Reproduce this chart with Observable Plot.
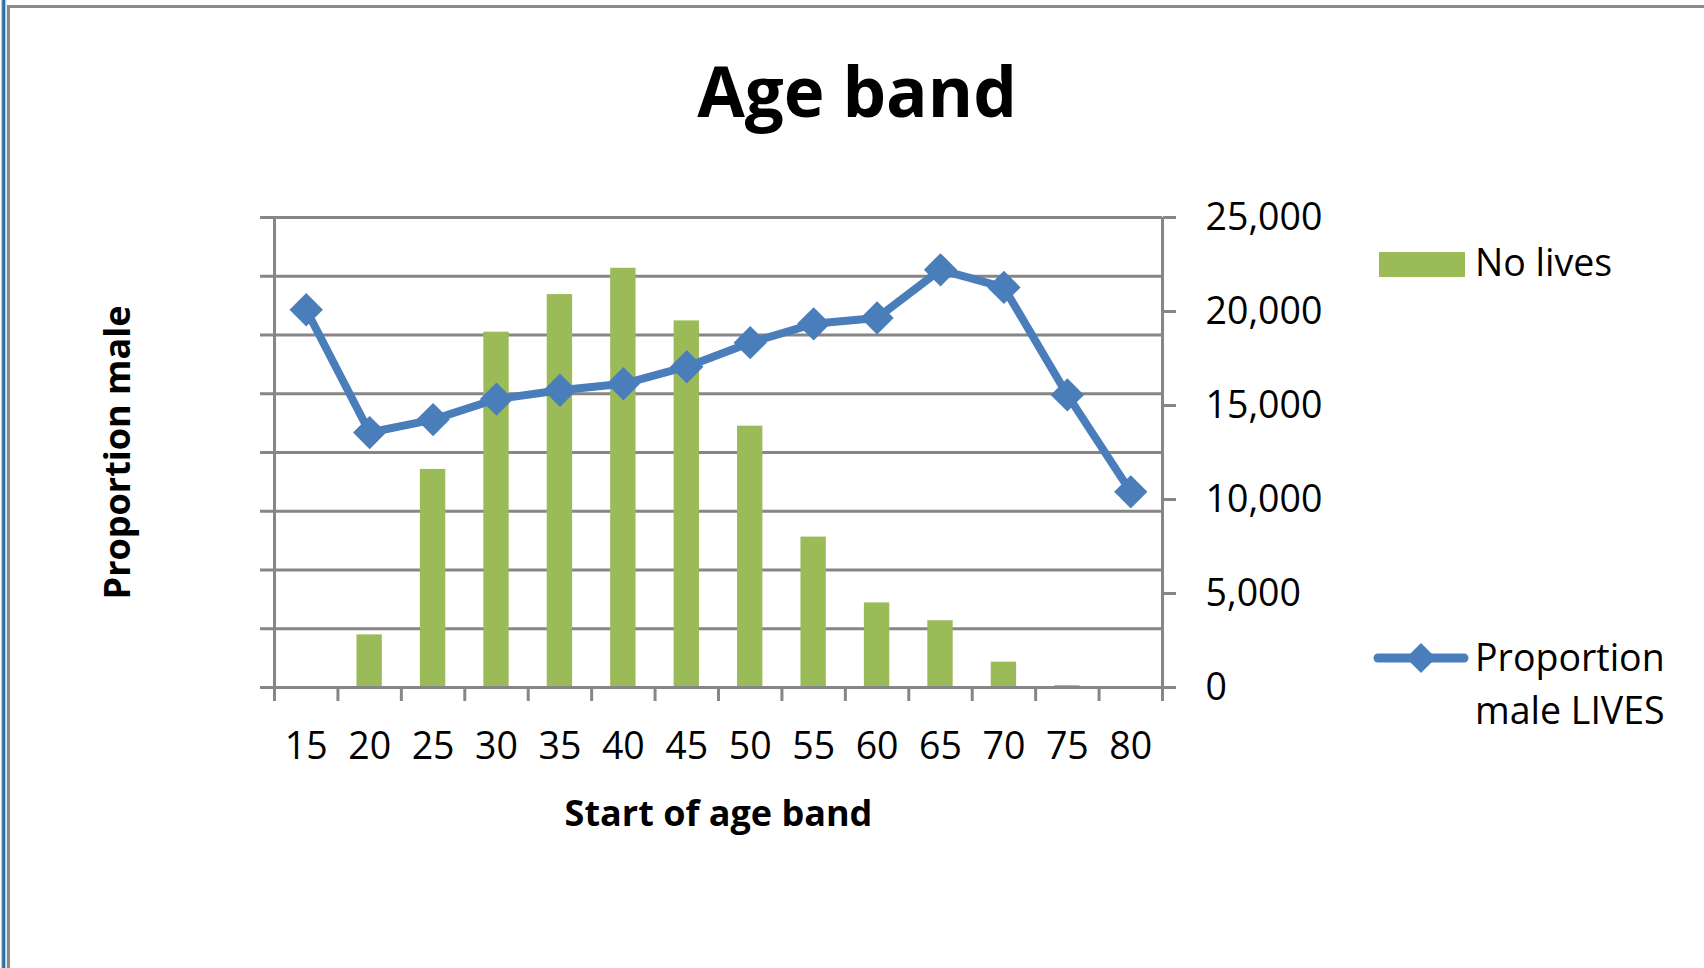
<!DOCTYPE html>
<html>
<head>
<meta charset="utf-8">
<script src="https://cdn.jsdelivr.net/npm/d3@7"></script>
<script src="https://cdn.jsdelivr.net/npm/@observablehq/plot@0.6"></script>
<style>
  html, body { margin: 0; padding: 0; background: #fff; }
  #wrap { position: relative; width: 1704px; height: 968px; overflow: hidden; background: #fff; }
  #chart, #overlay { position: absolute; left: 0; top: 0; }
  #overlay { pointer-events: none; font-family: "Open Sans", sans-serif; }
</style>
</head>
<body>
<div id="wrap">
  <div id="chart"></div>
  <svg id="overlay" width="1704" height="968" xmlns="http://www.w3.org/2000/svg">
    <!-- outer frame -->
    <rect x="1" y="0" width="1.2" height="968" fill="#a8d0ea"></rect>
    <rect x="2.2" y="0" width="3" height="968" fill="#2f6c9c"></rect>
    <rect x="5.2" y="0" width="1.2" height="968" fill="#a8d0ea"></rect>
    <rect x="7" y="5" width="1697" height="3" fill="#8a8a8a"></rect>
    <rect x="7" y="5" width="3" height="963" fill="#8a8a8a"></rect>
    <!-- title -->
    <text x="857" y="117" text-anchor="middle" font-size="69" font-weight="bold" fill="#000">Age band</text>
    <!-- legend -->
    <rect x="1379" y="252" width="86" height="25" fill="#9BBB59"></rect>
    <text x="1475" y="276" font-size="37.5" fill="#000">No lives</text>
    <line x1="1378" y1="658" x2="1464" y2="658" stroke="#4A7EBB" stroke-width="9" stroke-linecap="round"></line>
    <path d="M1421,643 L1436,658 L1421,673 L1406,658 Z" fill="#4A7EBB"></path>
    <text x="1475" y="671" font-size="37.5" fill="#000">Proportion</text>
    <text x="1475" y="724" font-size="37.5" fill="#000">male LIVES</text>
  </svg>
</div>
<script>
// Start of each five-year age band
const ageBands = [15, 20, 25, 30, 35, 40, 45, 50, 55, 60, 65, 70, 75, 80];
// Number of lives in each band (right-hand axis)
const lives = [0, 2800, 11600, 18900, 20900, 22300, 19500, 13900, 8000, 4500, 3550, 1350, 100, 0];
// Proportion of lives that are male (left-hand axis, unlabelled)
const proportionMale = [0.643, 0.434, 0.456, 0.491, 0.506, 0.517, 0.546, 0.587, 0.619, 0.629, 0.711, 0.681, 0.498, 0.333];
// Tick values for both vertical axes
const livesTicks = [0, 5000, 10000, 15000, 20000, 25000];
const proportionTicks = [0, 0.1, 0.2, 0.3, 0.4, 0.5, 0.6, 0.7, 0.8];

const livesMax = 25000;
const proportionMax = 0.8;
// the proportion series shares the plot's y scale, so rescale it onto the lives range
const toLives = (p) => p * livesMax / proportionMax;

const rows = ageBands.map((band, i) => ({
  i,
  band,
  lives: lives[i],
  prop: proportionMale[i]
}));

const gray = "#868686";
const boundaries = ageBands.map((_, i) => i).concat(ageBands.length);
const centres = ageBands.map((_, i) => i + 0.5);

const chart = Plot.plot({
  width: 1704,
  height: 968,
  marginLeft: 274,
  marginRight: 542,
  marginTop: 217,
  marginBottom: 281,
  style: {
    fontFamily: "'Open Sans', sans-serif",
    fontSize: "37.5px",
    color: "#000",
    background: "transparent",
    overflow: "visible"
  },
  x: { type: "linear", domain: [0, ageBands.length] },
  y: { type: "linear", domain: [0, livesMax] },
  marks: [
    // horizontal gridlines follow the proportion axis
    Plot.ruleY(proportionTicks, { y: toLives, stroke: gray, strokeWidth: 3 }),
    // bars: number of lives
    Plot.rectY(rows, {
      x1: (d) => d.i + 0.3,
      x2: (d) => d.i + 0.7,
      y: "lives",
      fill: "#9BBB59"
    }),
    // axis lines
    Plot.ruleX([0, ageBands.length], { stroke: gray, strokeWidth: 3 }),
    Plot.ruleY([0], { stroke: gray, strokeWidth: 3 }),
    // left axis: ticks only
    Plot.axisY(proportionTicks.map(toLives), {
      anchor: "left",
      tickSize: 14,
      tickFormat: () => "",
      stroke: gray,
      strokeWidth: 3,
      label: null
    }),
    // right axis: number of lives
    Plot.axisY(livesTicks, {
      anchor: "right",
      tickSize: 13,
      tickPadding: 30,
      tickFormat: d3.format(","),
      stroke: gray,
      strokeWidth: 3,
      fill: "#000",
      textAnchor: "start",
      label: null
    }),
    // bottom axis: ticks at band boundaries, labels at band centres
    Plot.axisX(boundaries, {
      tickSize: 14,
      tickFormat: () => "",
      stroke: gray,
      strokeWidth: 3,
      label: null
    }),
    Plot.axisX(centres, {
      tickSize: 0,
      tickPadding: 45,
      tickFormat: (d) => String(ageBands[Math.round(d - 0.5)]),
      fill: "#000",
      label: null
    }),
    // proportion male line with diamond markers
    Plot.line(rows, {
      x: (d) => d.i + 0.5,
      y: (d) => toLives(d.prop),
      stroke: "#4A7EBB",
      strokeWidth: 8,
      strokeLinejoin: "round"
    }),
    Plot.dot(rows, {
      x: (d) => d.i + 0.5,
      y: (d) => toLives(d.prop),
      symbol: "diamond2",
      r: 15,
      fill: "#4A7EBB",
      stroke: "none"
    }),
    // axis titles
    Plot.text(["Start of age band"], {
      frameAnchor: "bottom",
      dy: 126.5,
      textAnchor: "middle",
      lineAnchor: "middle",
      fontWeight: "bold",
      fontSize: 36,
      fill: "#000"
    }),
    Plot.text(["Proportion male"], {
      frameAnchor: "left",
      dx: -156,
      rotate: -90,
      textAnchor: "middle",
      lineAnchor: "middle",
      fontWeight: "bold",
      fontSize: 36,
      fill: "#000"
    })
  ]
});

document.getElementById("chart").appendChild(chart);
</script>
</body>
</html>
